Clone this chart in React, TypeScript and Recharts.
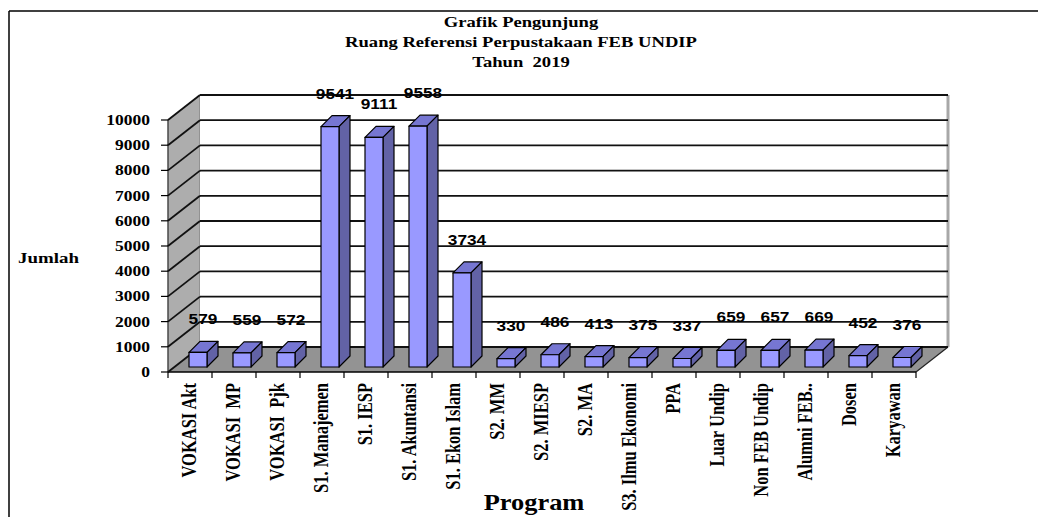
import React from 'react';
import { BarChart, Bar, XAxis, YAxis, CartesianGrid, LabelList } from 'recharts';

// values
const categories = [
  'VOKASI Akt', 'VOKASI  MP', 'VOKASI  Pjk', 'S1. Manajemen', 'S1. IESP', 'S1. Akuntansi',
  'S1. Ekon Islam', 'S2. MM', 'S2. MIESP', 'S2. MA', 'S3. Ilmu Ekonomi', 'PPA', 'Luar Undip',
  'Non FEB Undip', 'Alumni FEB..', 'Dosen', 'Karyawan',
];
const visitors = [579, 559, 572, 9541, 9111, 9558, 3734, 330, 486, 413, 375, 337, 659, 657, 669, 452, 376];
const yTicks = [0, 1000, 2000, 3000, 4000, 5000, 6000, 7000, 8000, 9000, 10000];
const titleLines = ['Grafik Pengunjung', 'Ruang Referensi Perpustakaan FEB UNDIP', 'Tahun  2019'];

const data = categories.map((name, i) => ({ name, value: visitors[i] }));

const W = 1038;
const H = 517;
// plot area (bar scale)
const PL = 168;
const PR = 916;
const PT = 115;
const PB = 367;
// 3D offsets
const DX = 32;
const FRONT = 5; // front axis sits below the bar base
const BACK = -20; // back wall sits above the bar base
const BAR_SHIFT = 8;
const BAR_DEPTH = 11;
const SERIF = '"Liberation Serif", "Times New Roman", serif';
const SANS = '"Liberation Sans", Arial, sans-serif';

const Bar3D = (props: any) => {
  const { x, y, width, height } = props;
  if (height == null) return null;
  const fx = x + BAR_SHIFT;
  const d = BAR_DEPTH;
  return (
    <g stroke="#000" strokeWidth={1.2} strokeLinejoin="round">
      <polygon
        points={`${fx},${y} ${fx + d},${y - d} ${fx + width + d},${y - d} ${fx + width},${y}`}
        fill="#7676D2"
      />
      <polygon
        points={`${fx + width},${y} ${fx + width + d},${y - d} ${fx + width + d},${y + height - d} ${fx + width},${y + height}`}
        fill="#6262A6"
      />
      <rect x={fx} y={y} width={width} height={height} fill="#9999FF" />
    </g>
  );
};

const ValueLabel = (props: any) => {
  const { x, y, width, value } = props;
  const cx = x + width / 2 + BAR_SHIFT + 5;
  return (
    <text
      transform={`translate(${cx},${y - 28}) scale(1.15,1)`}
      textAnchor="middle"
      fontFamily={SANS}
      fontWeight="bold"
      fontSize={15}
      fill="#000"
    >
      {value}
    </text>
  );
};

const YTick = (props: any) => {
  const { y, payload } = props;
  const fy = y + FRONT;
  return (
    <g>
      <line x1={PL - 7} y1={fy} x2={PL} y2={fy} stroke="#000" strokeWidth={1.2} />
      <text
        transform={`translate(${PL - 18},${fy + 5}) scale(1.25,1)`}
        textAnchor="end"
        fontFamily={SERIF}
        fontWeight="bold"
        fontSize={14}
        fill="#000"
      >
        {payload.value}
      </text>
    </g>
  );
};

const band = (PR - PL) / categories.length;

const XTick = (props: any) => {
  const { x, payload, index } = props;
  const fy = PB + FRONT;
  return (
    <g>
      <line x1={x - band / 2} y1={fy} x2={x - band / 2} y2={fy + 6} stroke="#000" strokeWidth={1.2} />
      {index === categories.length - 1 && (
        <line x1={x + band / 2} y1={fy} x2={x + band / 2} y2={fy + 6} stroke="#000" strokeWidth={1.2} />
      )}
      <text
        transform={`translate(${x + 6},${fy + 11}) scale(1.22,1) rotate(-90)`}
        textAnchor="end"
        fontFamily={SERIF}
        fontWeight="bold"
        fontSize={16.5}
        fill="#000"
        style={{ whiteSpace: 'pre' }}
      >
        {payload.value}
      </text>
    </g>
  );
};

// back wall gridline plus its diagonal across the side wall
const GridLine = (props: any) => {
  const { y1, x1, x2 } = props;
  return (
    <g stroke="#111" strokeWidth={1.8}>
      <line x1={x1 + DX} y1={y1 + BACK} x2={x2 + DX} y2={y1 + BACK} />
      <line x1={x1} y1={y1 + FRONT} x2={x1 + DX} y2={y1 + BACK} />
    </g>
  );
};

const Walls = () => (
  <svg width={W} height={H} style={{ position: 'absolute', left: 0, top: 0 }}>
    {/* frame */}
    <line x1={9} y1={11} x2={W} y2={11} stroke="#000" strokeWidth={1.5} />
    <line x1={9} y1={11} x2={9} y2={H} stroke="#000" strokeWidth={1.5} />
    {/* side wall */}
    <polygon
      points={`${PL},${PB + FRONT} ${PL + DX},${PB + BACK} ${PL + DX},${PT + BACK} ${PL},${PT + FRONT}`}
      fill="#ADADAD"
      stroke="#777"
      strokeWidth={1}
    />
    {/* back wall */}
    <rect x={PL + DX} y={PT + BACK} width={PR - PL} height={PB - PT} fill="#fff" />
    <line x1={PR + DX} y1={PT + BACK} x2={PR + DX} y2={PB + BACK} stroke="#A8A8A8" strokeWidth={3} />
    {/* floor */}
    <polygon
      points={`${PL},${PB + FRONT} ${PR},${PB + FRONT} ${PR + DX},${PB + BACK} ${PL + DX},${PB + BACK}`}
      fill="#939393"
    />
    <line x1={PR} y1={PB + FRONT} x2={PR + DX} y2={PB + BACK} stroke="#222" strokeWidth={1.2} />
    <line x1={PL} y1={PB + FRONT} x2={PR} y2={PB + FRONT} stroke="#000" strokeWidth={1.5} />
    <line x1={PL} y1={PT + FRONT} x2={PL} y2={PB + FRONT} stroke="#333" strokeWidth={1} />
    {/* titles */}
    {titleLines.map((t, i) => (
      <text
        key={t}
        transform={`translate(521,${27 + i * 20}) scale(1.2,1)`}
        textAnchor="middle"
        fontFamily={SERIF}
        fontWeight="bold"
        fontSize={15.5}
        style={{ whiteSpace: 'pre' }}
      >
        {t}
      </text>
    ))}
    <text
      transform="translate(18,263) scale(1.35,1)"
      fontFamily={SERIF}
      fontWeight="bold"
      fontSize={14}
    >
      Jumlah
    </text>
    <text
      transform="translate(534,510) scale(1.1,1)"
      textAnchor="middle"
      fontFamily={SERIF}
      fontWeight="bold"
      fontSize={24}
    >
      Program
    </text>
  </svg>
);

export default function App() {
  return (
    <div style={{ position: 'fixed', left: 0, top: 0, width: W, height: H, background: '#fff' }}>
      <Walls />
      <div style={{ position: 'absolute', left: 0, top: 0 }}>
        <BarChart
          width={W}
          height={H}
          data={data}
          margin={{ top: PT, right: W - PR, left: PL - 60, bottom: H - PB - 30 }}
          barSize={18}
        >
          <CartesianGrid vertical={false} horizontal={(p: any) => <GridLine key={p.key ?? p.index} {...p} />} />
          <XAxis
            dataKey="name"
            interval={0}
            height={30}
            tick={<XTick />}
            tickLine={false}
            axisLine={false}
          />
          <YAxis
            width={60}
            domain={[0, 10000]}
            ticks={yTicks}
            tick={<YTick />}
            tickLine={false}
            axisLine={false}
          />
          <Bar dataKey="value" shape={<Bar3D />} isAnimationActive={false}>
            <LabelList dataKey="value" content={<ValueLabel />} />
          </Bar>
        </BarChart>
      </div>
    </div>
  );
}
